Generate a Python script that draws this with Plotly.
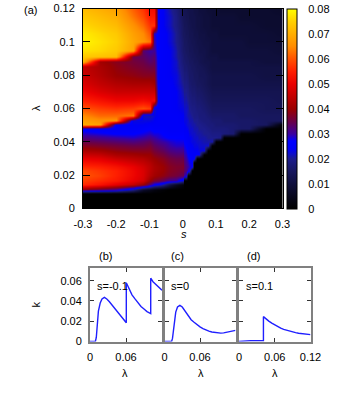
import plotly.graph_objects as go
import numpy as np

# ---------------- data: main map k(s, lambda) ----------------
s_cols = [-0.3, -0.25, -0.2, -0.15, -0.12, -0.1, -0.085, -0.075, -0.06, -0.04, -0.02, 0.0,
          0.005, 0.01, 0.015, 0.02, 0.0275, 0.035, 0.0425, 0.05, 0.0625, 0.075, 0.0875,
          0.1, 0.1125, 0.125, 0.15, 0.175, 0.2, 0.25, 0.3]
lam_rows = [0, 0.005, 0.009, 0.0115, 0.014,
            0.017, 0.02, 0.0225, 0.025, 0.0275,
            0.03, 0.0325, 0.035, 0.0375, 0.04,
            0.0425, 0.045, 0.048, 0.0505, 0.053,
            0.056, 0.06, 0.065, 0.07, 0.075,
            0.08, 0.085, 0.088, 0.091, 0.095,
            0.1, 0.105, 0.11, 0.115, 0.12]

k_m030 = [0, 0, 0, 0.038, 0.056, 0.058, 0.06, 0.059, 0.056, 0.053, 0.05, 0.046, 0.042, 0.038, 0.035,
          0.032, 0.029, 0.026, 0.07, 0.068, 0.065, 0.06, 0.055, 0.051, 0.048, 0.046, 0.045, 0.071, 0.074, 0.077,
          0.079, 0.078, 0.076, 0.074, 0.072]
k_m025 = [0, 0, 0, 0.034, 0.053, 0.056, 0.058, 0.057, 0.055, 0.052, 0.049, 0.045, 0.041, 0.037, 0.034,
          0.031, 0.028, 0.025, 0.068, 0.066, 0.062, 0.058, 0.053, 0.048, 0.045, 0.043, 0.042, 0.041, 0.073, 0.076,
          0.077, 0.076, 0.074, 0.072, 0.07]
k_m020 = [0, 0, 0, 0.03, 0.049, 0.054, 0.055, 0.055, 0.053, 0.05, 0.046, 0.042, 0.039, 0.036, 0.033,
          0.03, 0.027, 0.025, 0.024, 0.066, 0.062, 0.057, 0.051, 0.046, 0.043, 0.04, 0.039, 0.038, 0.072, 0.074,
          0.075, 0.074, 0.072, 0.07, 0.068]
k_m015 = [0, 0, 0, 0.02, 0.045, 0.05, 0.051, 0.051, 0.05, 0.047, 0.044, 0.041, 0.038, 0.035, 0.032,
          0.029, 0.027, 0.025, 0.024, 0.023, 0.063, 0.058, 0.051, 0.046, 0.042, 0.039, 0.037, 0.036, 0.035, 0.068,
          0.069, 0.068, 0.066, 0.063, 0.061]
k_m012 = [0, 0, 0, 0.008, 0.04, 0.047, 0.048, 0.048, 0.047, 0.045, 0.043, 0.04, 0.038, 0.035, 0.033,
          0.03, 0.028, 0.026, 0.024, 0.023, 0.022, 0.06, 0.052, 0.046, 0.042, 0.038, 0.036, 0.035, 0.034, 0.033,
          0.066, 0.065, 0.062, 0.059, 0.057]
k_m010 = [0, 0, 0, 0.005, 0.032, 0.04, 0.043, 0.044, 0.044, 0.043, 0.041, 0.04, 0.038, 0.036, 0.034,
          0.031, 0.029, 0.027, 0.025, 0.023, 0.021, 0.058, 0.051, 0.046, 0.042, 0.038, 0.035, 0.033, 0.032, 0.03,
          0.063, 0.06, 0.057, 0.054, 0.052]
k_m0085 = [0, 0, 0, 0.003, 0.026, 0.037, 0.041, 0.042, 0.042, 0.041, 0.04, 0.038, 0.036, 0.034, 0.032,
           0.03, 0.028, 0.026, 0.025, 0.024, 0.023, 0.022, 0.052, 0.046, 0.041, 0.038, 0.035, 0.034, 0.033, 0.031,
           0.03, 0.029, 0.057, 0.054, 0.052]
k_m0075 = [0, 0, 0, 0.002, 0.024, 0.036, 0.04, 0.041, 0.041, 0.04, 0.039, 0.037, 0.035, 0.033, 0.031,
           0.029, 0.028, 0.026, 0.025, 0.025, 0.025, 0.025, 0.025, 0.025, 0.025, 0.025, 0.026, 0.026, 0.026, 0.026,
           0.026, 0.026, 0.026, 0.026, 0.026]
k_m006 = [0, 0, 0, 0.001, 0.02, 0.034, 0.039, 0.04, 0.04, 0.039, 0.038, 0.036, 0.034, 0.032, 0.03,
          0.028, 0.027, 0.026, 0.025, 0.025, 0.025, 0.025, 0.025, 0.025, 0.025, 0.025, 0.025, 0.025, 0.025, 0.025,
          0.025, 0.025, 0.024, 0.024, 0.024]
k_m004 = [0, 0, 0, 0, 0.012, 0.031, 0.037, 0.038, 0.038, 0.037, 0.036, 0.034, 0.032, 0.03, 0.029,
          0.027, 0.026, 0.025, 0.025, 0.025, 0.025, 0.025, 0.025, 0.025, 0.025, 0.024, 0.024, 0.024, 0.024, 0.024,
          0.023, 0.023, 0.022, 0.022, 0.021]
k_m002 = [0, 0, 0, 0, 0.006, 0.03, 0.036, 0.037, 0.037, 0.036, 0.035, 0.033, 0.031, 0.029, 0.028,
          0.027, 0.026, 0.025, 0.025, 0.025, 0.025, 0.024, 0.024, 0.024, 0.023, 0.023, 0.022, 0.022, 0.021, 0.021,
          0.02, 0.02, 0.019, 0.019, 0.018]
k_000 = [0, 0, 0, 0, 0.002, 0.022, 0.034, 0.036, 0.037, 0.036, 0.035, 0.033, 0.031, 0.029, 0.028,
         0.027, 0.026, 0.025, 0.025, 0.024, 0.024, 0.023, 0.022, 0.021, 0.02, 0.019, 0.018, 0.017, 0.017, 0.016,
         0.016, 0.015, 0.015, 0.014, 0.014]
k_p0005 = [0, 0, 0, 0, 0, 0, 0.03, 0.034, 0.034, 0.033, 0.032, 0.03, 0.029, 0.028, 0.027,
           0.026, 0.025, 0.024, 0.024, 0.023, 0.023, 0.022, 0.021, 0.02, 0.019, 0.018, 0.017, 0.017, 0.016, 0.016,
           0.015, 0.015, 0.014, 0.014, 0.013]
k_p001 = [0, 0, 0, 0, 0, 0, 0.028, 0.032, 0.032, 0.031, 0.03, 0.029, 0.028, 0.027, 0.026,
          0.025, 0.025, 0.024, 0.023, 0.023, 0.022, 0.022, 0.021, 0.02, 0.019, 0.018, 0.017, 0.016, 0.016, 0.015,
          0.015, 0.014, 0.014, 0.013, 0.013]
k_p0015 = [0, 0, 0, 0, 0, 0, 0, 0.028, 0.03, 0.029, 0.028, 0.027, 0.026, 0.025, 0.025,
           0.024, 0.024, 0.023, 0.022, 0.022, 0.021, 0.021, 0.02, 0.019, 0.018, 0.017, 0.016, 0.016, 0.015, 0.015,
           0.014, 0.014, 0.013, 0.013, 0.012]
k_p002 = [0, 0, 0, 0, 0, 0, 0, 0.028, 0.029, 0.028, 0.027, 0.026, 0.025, 0.025, 0.024,
          0.024, 0.023, 0.022, 0.022, 0.021, 0.021, 0.02, 0.019, 0.018, 0.017, 0.016, 0.016, 0.015, 0.015, 0.014,
          0.014, 0.013, 0.013, 0.012, 0.012]
k_p00275 = [0, 0, 0, 0, 0, 0, 0, 0, 0.027, 0.027, 0.026, 0.025, 0.025, 0.024, 0.023,
            0.023, 0.022, 0.022, 0.021, 0.021, 0.02, 0.019, 0.018, 0.017, 0.016, 0.016, 0.015, 0.015, 0.014, 0.014,
            0.013, 0.013, 0.012, 0.012, 0.012]
k_p0035 = [0, 0, 0, 0, 0, 0, 0, 0, 0, 0, 0.026, 0.025, 0.024, 0.023, 0.023,
           0.022, 0.022, 0.021, 0.021, 0.02, 0.019, 0.019, 0.018, 0.017, 0.016, 0.015, 0.015, 0.014, 0.014, 0.013,
           0.013, 0.012, 0.012, 0.012, 0.011]
k_p00425 = [0, 0, 0, 0, 0, 0, 0, 0, 0, 0, 0, 0.025, 0.024, 0.023, 0.022,
            0.022, 0.021, 0.021, 0.02, 0.02, 0.019, 0.018, 0.017, 0.016, 0.015, 0.015, 0.014, 0.014, 0.013, 0.013,
            0.012, 0.012, 0.011, 0.011, 0.011]
k_p005 = [0, 0, 0, 0, 0, 0, 0, 0, 0, 0, 0, 0.024, 0.023, 0.022, 0.022,
          0.021, 0.021, 0.02, 0.02, 0.019, 0.018, 0.018, 0.017, 0.016, 0.015, 0.014, 0.014, 0.013, 0.013, 0.012,
          0.012, 0.011, 0.011, 0.011, 0.01]
k_p00625 = [0, 0, 0, 0, 0, 0, 0, 0, 0, 0, 0, 0, 0.023, 0.022, 0.021,
            0.021, 0.02, 0.02, 0.019, 0.018, 0.018, 0.017, 0.016, 0.015, 0.014, 0.014, 0.013, 0.012, 0.012, 0.012,
            0.011, 0.011, 0.01, 0.01, 0.01]
k_p0075 = [0, 0, 0, 0, 0, 0, 0, 0, 0, 0, 0, 0, 0, 0.022, 0.021,
           0.02, 0.02, 0.019, 0.018, 0.018, 0.017, 0.016, 0.015, 0.014, 0.013, 0.013, 0.012, 0.012, 0.011, 0.011,
           0.011, 0.01, 0.01, 0.01, 0.009]
k_p00875 = [0, 0, 0, 0, 0, 0, 0, 0, 0, 0, 0, 0, 0, 0, 0.021,
            0.02, 0.019, 0.018, 0.018, 0.017, 0.016, 0.015, 0.014, 0.013, 0.012, 0.012, 0.011, 0.011, 0.011, 0.01,
            0.01, 0.01, 0.009, 0.009, 0.009]
k_p010 = [0, 0, 0, 0, 0, 0, 0, 0, 0, 0, 0, 0, 0, 0, 0,
          0.02, 0.019, 0.018, 0.017, 0.017, 0.016, 0.015, 0.014, 0.013, 0.012, 0.012, 0.011, 0.011, 0.011, 0.01,
          0.01, 0.01, 0.009, 0.009, 0.009]
k_p01125 = [0, 0, 0, 0, 0, 0, 0, 0, 0, 0, 0, 0, 0, 0, 0,
            0.019, 0.019, 0.018, 0.017, 0.017, 0.016, 0.015, 0.014, 0.013, 0.012, 0.012, 0.011, 0.011, 0.01, 0.01,
            0.01, 0.009, 0.009, 0.009, 0.008]
k_p0125 = [0, 0, 0, 0, 0, 0, 0, 0, 0, 0, 0, 0, 0, 0, 0,
           0, 0.018, 0.018, 0.017, 0.016, 0.016, 0.015, 0.014, 0.013, 0.012, 0.012, 0.011, 0.011, 0.01, 0.01,
           0.01, 0.009, 0.009, 0.009, 0.008]
k_p015 = [0, 0, 0, 0, 0, 0, 0, 0, 0, 0, 0, 0, 0, 0, 0,
          0, 0.017, 0.017, 0.017, 0.016, 0.016, 0.015, 0.014, 0.013, 0.012, 0.012, 0.011, 0.011, 0.01, 0.01,
          0.01, 0.009, 0.009, 0.009, 0.008]
k_p0175 = [0, 0, 0, 0, 0, 0, 0, 0, 0, 0, 0, 0, 0, 0, 0,
           0, 0, 0.016, 0.016, 0.016, 0.015, 0.015, 0.014, 0.013, 0.012, 0.012, 0.011, 0.011, 0.01, 0.01,
           0.01, 0.009, 0.009, 0.008, 0.008]
k_p020 = [0, 0, 0, 0, 0, 0, 0, 0, 0, 0, 0, 0, 0, 0, 0,
          0, 0, 0.016, 0.016, 0.016, 0.015, 0.015, 0.014, 0.013, 0.012, 0.012, 0.011, 0.011, 0.01, 0.01,
          0.009, 0.009, 0.009, 0.008, 0.008]
k_p025 = [0, 0, 0, 0, 0, 0, 0, 0, 0, 0, 0, 0, 0, 0, 0,
          0, 0, 0, 0.015, 0.015, 0.015, 0.014, 0.014, 0.013, 0.012, 0.011, 0.011, 0.01, 0.01, 0.01,
          0.009, 0.009, 0.008, 0.008, 0.008]
k_p030 = [0, 0, 0, 0, 0, 0, 0, 0, 0, 0, 0, 0, 0, 0, 0,
          0, 0, 0, 0, 0.015, 0.015, 0.014, 0.013, 0.013, 0.012, 0.011, 0.011, 0.01, 0.01, 0.009,
          0.009, 0.008, 0.008, 0.008, 0.007]

map_columns = [k_m030, k_m025, k_m020, k_m015, k_m012, k_m010, k_m0085, k_m0075, k_m006,
               k_m004, k_m002, k_000, k_p0005, k_p001, k_p0015, k_p002, k_p00275, k_p0035,
               k_p00425, k_p005, k_p00625, k_p0075, k_p00875, k_p010, k_p01125, k_p0125,
               k_p015, k_p0175, k_p020, k_p025, k_p030]

# ---------------- data: line cuts ----------------
lam_b = [0, 0.005, 0.009, 0.0105, 0.012, 0.014, 0.017, 0.02, 0.024, 0.028, 0.032, 0.036, 0.04, 0.045,
         0.05, 0.055, 0.0605, 0.0605, 0.065, 0.07, 0.075, 0.08, 0.085, 0.09, 0.095, 0.1012, 0.1012,
         0.105, 0.11, 0.115, 0.12]
k_b = [0, 0, 0, 0.004, 0.018, 0.03, 0.038, 0.042, 0.0435, 0.042, 0.0395, 0.0365, 0.034, 0.03,
       0.026, 0.022, 0.0185, 0.058, 0.052, 0.046, 0.042, 0.038, 0.0345, 0.032, 0.0295, 0.0275, 0.0625,
       0.059, 0.056, 0.053, 0.0505]

lam_c = [0, 0.005, 0.012, 0.0135, 0.015, 0.017, 0.019, 0.022, 0.026, 0.03, 0.035, 0.04, 0.045, 0.05,
         0.055, 0.06, 0.065, 0.07, 0.075, 0.08, 0.085, 0.09, 0.095, 0.1, 0.105, 0.11, 0.115, 0.12]
k_c = [0, 0, 0, 0.003, 0.012, 0.022, 0.029, 0.034, 0.0357, 0.034, 0.0295, 0.025, 0.0215, 0.019,
       0.0165, 0.0145, 0.0128, 0.0113, 0.0102, 0.0094, 0.0088, 0.0084, 0.0083, 0.0085, 0.0091,
       0.0098, 0.0104, 0.011]

lam_d = [0, 0.009, 0.011, 0.02, 0.03, 0.041, 0.041, 0.045, 0.05, 0.055, 0.06, 0.065, 0.07, 0.075,
         0.08, 0.085, 0.09, 0.095, 0.1, 0.105, 0.11, 0.115, 0.12]
k_d = [0, 0, 0.0006, 0.0007, 0.0008, 0.0008, 0.0245, 0.0222, 0.0201, 0.0182, 0.0164, 0.0147,
       0.0132, 0.012, 0.011, 0.0101, 0.0093, 0.0087, 0.0082, 0.0077, 0.0073, 0.007, 0.0068]

cut_labels = ["s=-0.1", "s=0", "s=0.1"]

# ---------------- tick labels ----------------
s_tick_vals = [-0.3, -0.2, -0.1, 0, 0.1, 0.2, 0.3]
s_tick_text = ["-0.3", "-0.2", "-0.1", "0", "0.1", "0.2", "0.3"]
lam_tick_vals = [0, 0.02, 0.04, 0.06, 0.08, 0.1, 0.12]
lam_tick_text = ["0", "0.02", "0.04", "0.06", "0.08", "0.1", "0.12"]
cb_tick_vals = [0, 0.01, 0.02, 0.03, 0.04, 0.05, 0.06, 0.07, 0.08]
cb_tick_text = ["0", "0.01", "0.02", "0.03", "0.04", "0.05", "0.06", "0.07", "0.08"]
k_tick_vals = [0, 0.02, 0.04, 0.06]
k_tick_text = ["0", "0.02", "0.04", "0.06"]

assert all(len(c) == len(lam_rows) for c in map_columns)
assert len(map_columns) == len(s_cols)

# ---------------- figure ----------------
W, H = 360, 399
def px(x):
    return x / W
def py(y):
    return 1 - y / H

FONT = "Liberation Sans, Arial, sans-serif"

colorscale = [
    [0.0, "#000000"], [0.0625, "#07071c"], [0.125, "#0f0f3c"], [0.1875, "#17175e"],
    [0.25, "#1c1c8c"], [0.275, "#0e0ec8"], [0.3, "#0000f5"], [0.34, "#0000ff"],
    [0.375, "#3a00a0"], [0.4375, "#6a0048"], [0.5, "#9a0000"], [0.5625, "#c20000"],
    [0.625, "#ea0000"], [0.6875, "#ff1e00"], [0.75, "#ff5200"], [0.8125, "#ff8c00"],
    [0.875, "#ffae00"], [0.9375, "#ffd000"], [1.0, "#ffff00"],
]

Z = np.array(map_columns, dtype=float).T

cb_common = dict(x=px(286.7), xanchor="left", xpad=0, thickness=10,
                 lenmode="pixels", len=200, y=py(109), yanchor="middle", ypad=0,
                 tickvals=cb_tick_vals, ticktext=cb_tick_text)

fig = go.Figure()
fig.add_trace(go.Heatmap(
    x=s_cols, y=lam_rows, z=Z, zmin=0, zmax=0.08, zsmooth="best",
    colorscale=colorscale, xaxis="x", yaxis="y", hoverinfo="skip",
    colorbar=dict(cb_common, outlinewidth=1, outlinecolor="black",
                  ticks="outside", ticklen=9, tickcolor="rgba(0,0,0,0)",
                  tickfont=dict(family=FONT, size=11, color="black")),
))
# transparent overlay colorbar that only draws the tick marks across the bar
fig.add_trace(go.Heatmap(
    z=[[None]], zmin=0, zmax=0.08, xaxis="x", yaxis="y", hoverinfo="skip",
    colorscale=[[0, "rgba(0,0,0,0)"], [1, "rgba(0,0,0,0)"]],
    colorbar=dict(cb_common, outlinewidth=0, ticks="inside", ticklen=10,
                  tickcolor="black", tickwidth=1, showticklabels=False),
))

line_style = dict(color="#1f1fff", width=1.4)
fig.add_trace(go.Scatter(x=lam_b, y=k_b, mode="lines", line=line_style, xaxis="x2", yaxis="y2", showlegend=False))
fig.add_trace(go.Scatter(x=lam_c, y=k_c, mode="lines", line=line_style, xaxis="x3", yaxis="y3", showlegend=False))
fig.add_trace(go.Scatter(x=lam_d, y=k_d, mode="lines", line=line_style, xaxis="x4", yaxis="y4", showlegend=False))

tf = dict(family=FONT, size=11, color="black")
main_ax = dict(showline=True, linecolor="black", linewidth=1, mirror="ticks", ticks="inside",
               ticklen=7, tickcolor="black", tickwidth=1, showgrid=False, zeroline=False,
               tickfont=tf, ticklabelstandoff=5, automargin=False)

fig.update_layout(
    template="none",
    width=W, height=H, margin=dict(l=0, r=0, t=0, b=0, autoexpand=False),
    paper_bgcolor="white", plot_bgcolor="white", showlegend=False,
    font=dict(family=FONT, size=11, color="black"),
    xaxis=dict(main_ax, domain=[px(83), px(282.5)], range=[-0.3, 0.3],
               tickvals=s_tick_vals, ticktext=s_tick_text, anchor="y"),
    yaxis=dict(main_ax, domain=[py(208.3), py(8.5)], range=[0, 0.12],
               tickvals=lam_tick_vals, ticktext=lam_tick_text, anchor="x"),
)

small_ax = dict(showline=True, linecolor="#808080", linewidth=2, mirror="ticks", ticks="inside",
                ticklen=4, tickcolor="#333333", tickwidth=1, showgrid=False, zeroline=False,
                tickfont=tf, ticklabelstandoff=4, automargin=False)
panel_x = [(90, 162), (164.5, 235.5), (239, 310.5)]
x_ticks_panels = [([0, 0.06], ["0", "0.06"]), ([0, 0.06], ["0", "0.06"]),
                  ([0, 0.06, 0.12], ["0", "0.06", "0.12"])]
for i, (xl, xr) in enumerate(panel_x):
    n = i + 2
    tv, tt = x_ticks_panels[i]
    fig.update_layout({
        f"xaxis{n}": dict(small_ax, domain=[px(xl), px(xr)], range=[0, 0.12], anchor=f"y{n}",
                          tickvals=tv, ticktext=tt),
        f"yaxis{n}": dict(small_ax, domain=[py(341.5), py(268)], range=[0, 0.0725], anchor=f"x{n}",
                          tickvals=k_tick_vals, ticktext=k_tick_text, showticklabels=(i == 0)),
    })

ann = []
def txt(t, x, y, rot=0, xanchor="center", size=11):
    ann.append(dict(text=t, x=px(x), y=py(y), xref="paper", yref="paper", showarrow=False,
                    xanchor=xanchor, yanchor="middle", textangle=rot,
                    font=dict(family=FONT, size=size, color="black")))

txt("(a)", 30, 10.5)
txt("(b)", 105, 256)
txt("(c)", 177.5, 256)
txt("(d)", 253.5, 256)
txt("λ", 36.5, 108.5, rot=-90)
txt("<i>s</i>", 183.5, 233.5)
txt("k", 35.5, 305, rot=-90)
for cx in [125, 200.5, 274.5]:
    txt("λ", cx, 373)
for lbl, lx in zip(cut_labels, [94.5, 169, 243.5]):
    txt(lbl, lx, 285.5, xanchor="left")

fig.update_layout(annotations=ann)
fig.write_html("out.html", config={"displayModeBar": False},
               post_script="document.body.style.margin='0';document.body.style.overflow='hidden';")
